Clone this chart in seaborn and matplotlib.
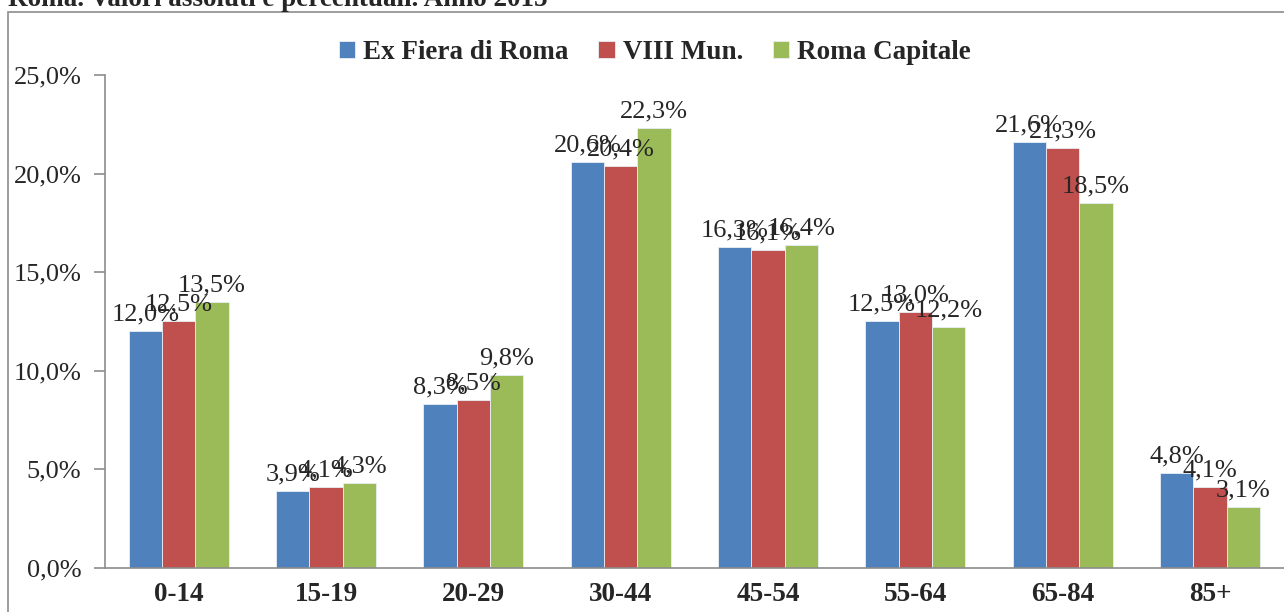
import matplotlib.pyplot as plt
import pandas as pd
import seaborn as sns
from matplotlib.patches import Rectangle
from matplotlib.ticker import FuncFormatter, FixedLocator

# dati: distribuzione per classi di età (%)
classi = ['0-14', '15-19', '20-29', '30-44', '45-54', '55-64', '65-84', '85+']
ex_fiera = [12.0, 3.9, 8.3, 20.6, 16.3, 12.5, 21.6, 4.8]
viii_mun = [12.5, 4.1, 8.5, 20.4, 16.1, 13.0, 21.3, 4.1]
roma_cap = [13.5, 4.3, 9.8, 22.3, 16.4, 12.2, 18.5, 3.1]
serie = ['Ex Fiera di Roma', 'VIII Mun.', 'Roma Capitale']
colori = ['#4F81BD', '#C0504D', '#9BBB59']

df = pd.DataFrame({'classe': classi * 3,
                   'valore': ex_fiera + viii_mun + roma_cap,
                   'serie': [s for s in serie for _ in classi]})

sns.set_style('white')
plt.rcParams['font.family'] = ['Liberation Serif', 'DejaVu Serif']

fig = plt.figure(figsize=(12.84, 6.12), dpi=100)
ax = fig.add_axes([0.0818, 0.072, 0.918, 0.8055])

sns.barplot(data=df, x='classe', y='valore', hue='serie', palette=colori,
            width=0.68, saturation=1, ax=ax, legend=True,
            edgecolor='#e8eef5', linewidth=0.6)

# etichette sopra le barre
for cont in ax.containers:
    ax.bar_label(cont, labels=[f"{v:.1f}%".replace('.', ',') for v in cont.datavalues],
                 padding=4, fontsize=19)

ax.set_ylim(0, 25)
ax.set_xlim(-0.5, 7.5)
ax.set_yticks(range(0, 26, 5))
ax.yaxis.set_major_formatter(FuncFormatter(lambda v, p: f"{v:.1f}%".replace('.', ',')))
ax.set_xlabel('')
ax.set_ylabel('')

ax.xaxis.set_minor_locator(FixedLocator([i - 0.5 for i in range(9)]))
ax.tick_params(axis='x', which='major', length=0, labelsize=19.5, pad=10)
ax.tick_params(axis='x', which='minor', length=7, width=1.2, color='#8c8c8c', direction='out')
ax.tick_params(axis='y', length=8, width=1.2, color='#8c8c8c', labelsize=19, pad=9, left=True)
for lab in ax.get_xticklabels():
    lab.set_fontweight('bold')

for s in ['top', 'right']:
    ax.spines[s].set_visible(False)
for s in ['left', 'bottom']:
    ax.spines[s].set_color('#8c8c8c')
    ax.spines[s].set_linewidth(1.2)

ax.legend(loc='upper center', bbox_to_anchor=(0.51, 0.975), bbox_transform=fig.transFigure,
          ncol=3, frameon=False, handlelength=0.6, handleheight=0.6, handletextpad=0.3,
          columnspacing=1.1, prop={'weight': 'bold', 'size': 19.5})

# cornice e titolo tagliato
fig.patches.append(Rectangle((8 / 1284, -0.05), 1.2, 1.05 - 12 / 612, transform=fig.transFigure,
                             fill=False, edgecolor='#8c8c8c', linewidth=1.2))
fig.text(8 / 1284, 1.0, 'Roma. Valori assoluti e percentuali. Anno 2015',
         fontsize=19.5, fontweight='bold', va='center', ha='left')

fig.savefig('out.png', dpi=100)
